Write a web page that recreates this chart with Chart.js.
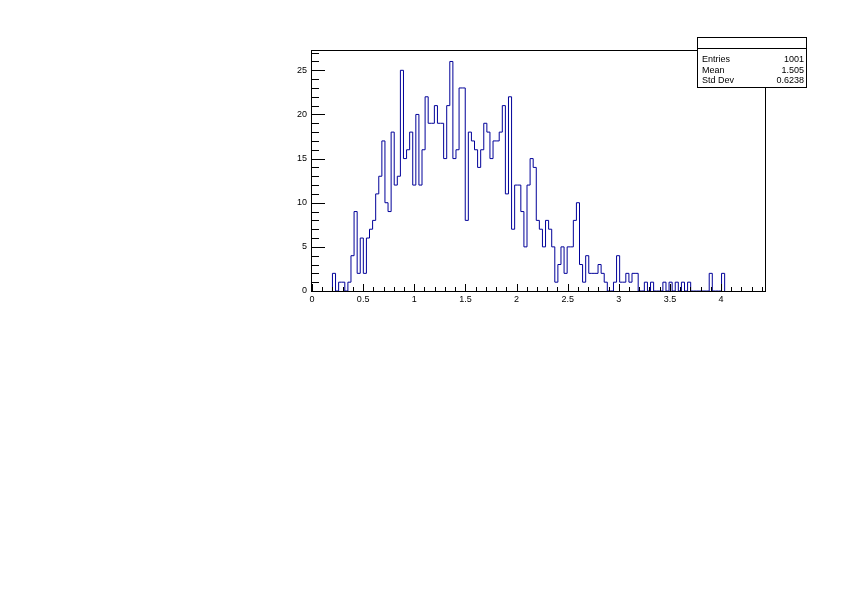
<!DOCTYPE html>
<html>
<head>
<meta charset="utf-8">
<script src="https://cdn.jsdelivr.net/npm/chart.js@4/dist/chart.umd.min.js"></script>
<style>
  html, body { margin: 0; padding: 0; background: #fff; }
  #wrap { width: 842px; height: 595px; }
</style>
</head>
<body>
<div id="wrap"><canvas id="chart-hist" width="842" height="595"></canvas></div>
<script>
// histogram: first bin low edge, bin width, bin contents
const binStart = 0.2;
const binWidth = 0.0302;
const counts = [
  2, 0, 1, 1, 0, 1, 4, 9, 2, 6,
  2, 6, 7, 8, 11, 13, 17, 10, 9, 18,
  12, 13, 25, 15, 16, 18, 12, 20, 12, 16,
  22, 19, 19, 21, 19, 19, 15, 21, 26, 15,
  16, 23, 23, 8, 18, 17, 16, 14, 16, 19,
  18, 15, 17, 17, 18, 21, 11, 22, 7, 12,
  12, 9, 5, 12, 15, 14, 8, 7, 5, 8,
  7, 5, 1, 3, 5, 2, 5, 5, 8, 10,
  3, 1, 4, 2, 2, 2, 3, 2, 1, 0,
  0, 1, 4, 1, 1, 2, 1, 2, 2, 0,
  0, 1, 0, 1, 0, 0, 0, 1, 0, 1,
  0, 1, 0, 1, 0, 1, 0, 0, 0, 0,
  0, 0, 2, 0, 0, 0, 2
];
const xRange = [0, 4.43];
const yRange = [0, 27.3];
const xTickLabels = ['0', '0.5', '1', '1.5', '2', '2.5', '3', '3.5', '4'];
const yTickLabels = ['0', '5', '10', '15', '20', '25'];
const statNames = ['Entries', 'Mean', 'Std Dev'];
const statValues = ['1001', '1.505', '0.6238'];

const FONT = '"Liberation Sans", Arial, Helvetica, sans-serif';

// step outline points: left edge of each bin carries its content
const points = [{ x: binStart, y: 0 }];
counts.forEach((c, i) => points.push({ x: binStart + i * binWidth, y: c }));
points.push({ x: binStart + counts.length * binWidth, y: 0 });

const frameAndStats = {
  id: 'frameAndStats',
  afterDatasetsDraw(chart) {
    const { ctx, chartArea: a, scales: { x, y } } = chart;
    ctx.save();
    ctx.strokeStyle = '#000';
    ctx.lineWidth = 1;
    ctx.beginPath();
    // y ticks, drawn inward: major every 5, minor every 1
    for (let v = 0; v <= y.max; v++) {
      const py = Math.round(y.getPixelForValue(v)) + 0.5;
      const len = v % 5 === 0 ? 13 : 7;
      ctx.moveTo(a.left, py);
      ctx.lineTo(a.left + len, py);
    }
    // x ticks: major every 0.5, minor every 0.1
    for (let k = 0; k * 0.1 <= x.max + 1e-9; k++) {
      const px = Math.round(x.getPixelForValue(k * 0.1)) + 0.5;
      const len = k % 5 === 0 ? 7 : 4;
      ctx.moveTo(px, a.bottom);
      ctx.lineTo(px, a.bottom - len);
    }
    ctx.stroke();
    ctx.strokeRect(Math.round(a.left) - 0.5, Math.round(a.top) + 0.5,
      Math.round(a.right - a.left) + 1, Math.round(a.bottom - a.top));

    // stats box
    const bx = 697.5, by = 37.5, bw = 109, bh = 50;
    ctx.fillStyle = '#fff';
    ctx.fillRect(bx, by, bw, bh);
    ctx.strokeRect(bx, by, bw, bh);
    ctx.beginPath();
    ctx.moveTo(bx, 48.5);
    ctx.lineTo(bx + bw, 48.5);
    ctx.stroke();
    ctx.fillStyle = '#000';
    ctx.font = '9px ' + FONT;
    ctx.textBaseline = 'alphabetic';
    statNames.forEach((name, i) => {
      const base = 62 + i * 10.5;
      ctx.textAlign = 'left';
      ctx.fillText(name, 702, base);
      ctx.textAlign = 'right';
      ctx.fillText(statValues[i], 804, base);
    });
    ctx.restore();
  }
};

new Chart(document.getElementById('chart-hist'), {
  type: 'line',
  data: {
    datasets: [{
      data: points,
      stepped: true,
      borderColor: '#000099',
      borderWidth: 1,
      pointRadius: 0,
      fill: false,
      tension: 0
    }]
  },
  options: {
    responsive: false,
    animation: false,
    devicePixelRatio: 1,
    layout: { padding: { left: 290, right: 77, top: 50, bottom: 288 } },
    plugins: { legend: { display: false }, tooltip: { enabled: false } },
    scales: {
      x: {
        type: 'linear',
        min: xRange[0], max: xRange[1],
        afterFit: (s) => { s.height = 16; },
        grid: { display: false, drawTicks: false },
        border: { display: false },
        ticks: {
          stepSize: 0.5,
          includeBounds: false,
          maxRotation: 0,
          autoSkip: false,
          padding: 3,
          color: '#000',
          font: { family: FONT, size: 9 },
          callback: (val, i) => xTickLabels[i]
        }
      },
      y: {
        type: 'linear',
        min: yRange[0], max: yRange[1],
        afterFit: (s) => { s.width = 22; },
        grid: { display: false, drawTicks: false },
        border: { display: false },
        ticks: {
          stepSize: 5,
          includeBounds: false,
          padding: 5,
          color: '#000',
          font: { family: FONT, size: 9 },
          callback: (val, i) => yTickLabels[i]
        }
      }
    }
  },
  plugins: [frameAndStats]
});
</script>
</body>
</html>
